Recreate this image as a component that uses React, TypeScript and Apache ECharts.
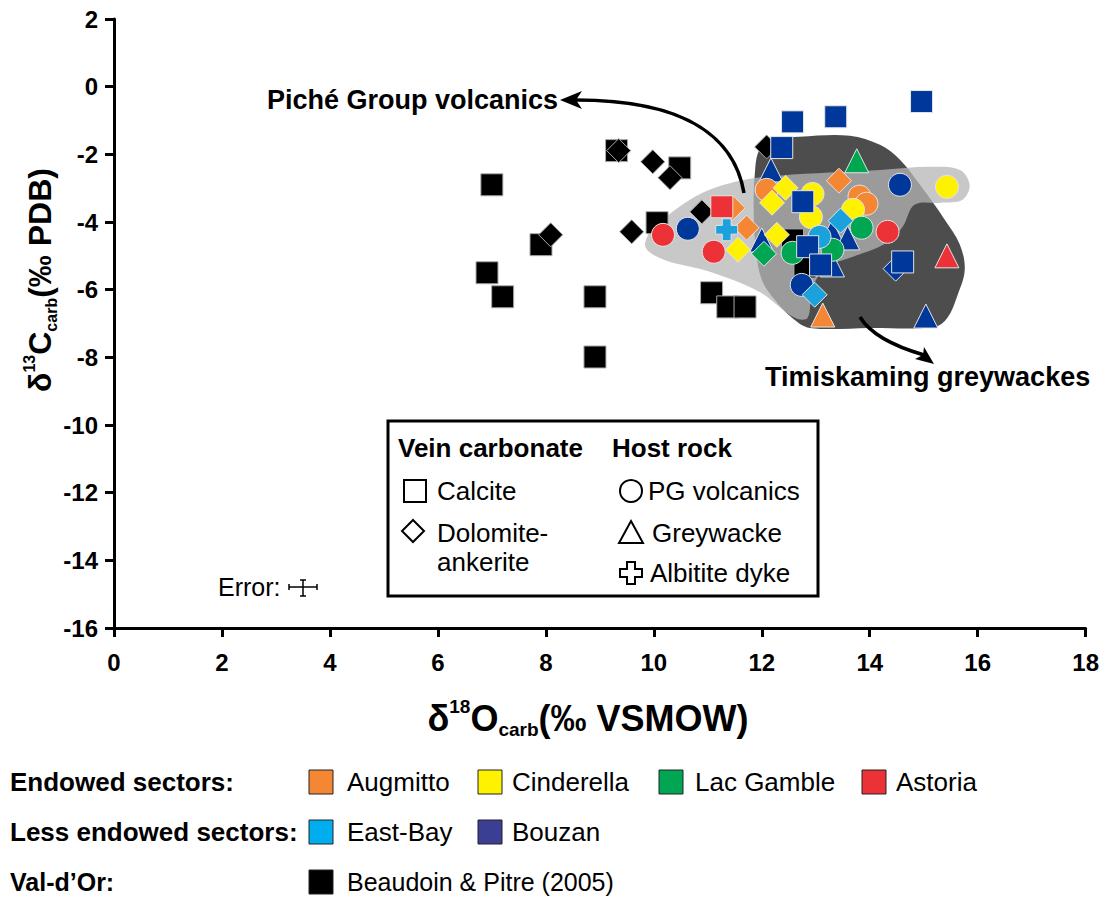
import React, { useEffect, useRef } from "react";
import * as echarts from "echarts";

const F = "'Liberation Sans', Arial, Helvetica, sans-serif";

// Axis ticks
const xTicks = { min: 0, max: 18, interval: 2 };
const yTicks = { min: -16, max: 2, interval: 2 };

// Shaded fields (data coordinates)
const greywackeField = [
  [11.87, -2.6], [11.96, -1.86], [12.24, -1.57], [12.7, -1.48], [13.63, -1.45], [14.19, -1.72],
  [14.56, -2.16], [14.93, -2.9], [15.39, -3.93], [15.67, -4.67], [15.76, -5.41], [15.63, -6.15],
  [15.44, -6.83], [15.2, -7.1], [14.0, -7.13], [12.89, -7.13], [12.56, -6.83], [12.24, -6.3],
  [12.0, -5.71], [11.89, -4.82], [11.85, -3.64],
];
const picheField = [
  [9.85, -4.76], [9.93, -4.29], [10.2, -3.88], [10.67, -3.34], [11.13, -2.99], [11.69, -2.75],
  [12.33, -2.63], [13.26, -2.54], [14.19, -2.46], [15.11, -2.37], [15.67, -2.46], [15.85, -2.9],
  [15.72, -3.34], [15.3, -3.43], [14.83, -3.49], [14.61, -4.14], [14.31, -4.62], [13.69, -5.03],
  [13.17, -5.36], [12.93, -6.01], [12.85, -6.83], [12.61, -6.83], [11.96, -6.07], [11.04, -5.47],
  [10.2, -5.12],
];

// Beaudoin & Pitre (2005), Val-d'Or
const valDOrCalcite = [
  [7.0, -2.9], [6.91, -5.5], [7.2, -6.21], [7.91, -4.67], [8.91, -6.21], [8.91, -7.99],
  [9.31, -1.89], [10.06, -4.02], [10.48, -2.4], [11.07, -6.09], [11.37, -6.51], [11.69, -6.51],
  [12.57, -4.53], [12.8, -5.33],
];
const valDOrDolomite = [
  [8.09, -4.38], [9.35, -1.89], [9.98, -2.22], [10.3, -2.69], [9.59, -4.29], [10.89, -3.7], [12.09, -1.78],
];

// Augmitto
const augmittoDolomite = [[11.46, -3.58], [11.72, -4.17], [13.43, -2.78]];
const augmittoVolcanics = [[12.09, -3.05], [13.81, -3.25], [13.94, -3.46]];
const augmittoGreywacke = [[13.13, -6.75]];

// Cinderella
const cinderellaDolomite = [[12.44, -2.99], [12.19, -3.43], [11.56, -4.82], [12.28, -4.38]];
const cinderellaVolcanics = [[12.94, -3.17], [12.91, -3.85], [13.69, -3.64], [15.43, -2.96]];

// Lac Gamble
const lacGambleDolomite = [[12.04, -4.94]];
const lacGambleVolcanics = [[12.57, -4.91], [13.31, -4.82], [13.85, -4.17]];
const lacGambleGreywacke = [[13.76, -2.19]];

// Astoria
const astoriaCalcite = [[11.26, -3.55]];
const astoriaVolcanics = [[10.17, -4.38], [11.11, -4.88], [14.33, -4.29]];
const astoriaGreywacke = [[15.43, -5.0]];

// East-Bay
const eastBayDolomite = [[12.98, -6.15], [13.46, -3.96]];
const eastBayVolcanics = [[13.07, -4.44]];
const eastBayDyke = [[11.35, -4.23]];

// Bouzan
const bouzanCalcite = [
  [14.96, -0.44], [13.37, -0.89], [12.57, -1.04], [12.37, -1.8], [12.76, -3.4], [12.85, -4.73],
  [13.09, -5.27], [14.61, -5.18],
];
const bouzanDolomite = [[14.48, -5.38]];
const bouzanVolcanics = [[10.63, -4.2], [12.74, -5.86], [14.56, -2.9]];
const bouzanGreywacke = [[12.17, -2.46], [12.0, -4.53], [13.3, -4.29], [13.59, -4.47], [13.31, -5.27], [15.04, -6.78]];

const C = {
  augmitto: "#F58634",
  cinderella: "#FFF200",
  lacGamble: "#00A651",
  astoria: "#ED3237",
  eastBay: "#1BA1DC",
  bouzan: "#00379A",
  bouzanLegend: "#3A3F94",
  eastBayLegend: "#00AEEF",
  black: "#000000",
};

const CROSS = "path://M3,0H7V3H10V7H7V10H3V7H0V3H3Z";

function mk(name: string, data: number[][], color: string, symbol: string, size: number, border = "#e4e4e4") {
  return {
    type: "scatter",
    name,
    data,
    symbol,
    symbolSize: size,
    z: 3,
    itemStyle: { color, borderColor: border, borderWidth: 1, opacity: 1 },
    emphasis: { disabled: true },
  };
}

function txt(text: string, x: number, y: number, size: number, bold = false, align = "left") {
  return {
    type: "text",
    x,
    y,
    z: 20,
    silent: true,
    style: {
      text,
      fill: "#000",
      fontSize: size,
      fontWeight: bold ? "bold" : "normal",
      fontFamily: F,
      align,
      verticalAlign: "middle",
    },
  };
}

function sq(cx: number, cy: number, color: string) {
  return {
    type: "rect",
    z: 20,
    silent: true,
    shape: { x: cx - 12, y: cy - 12, width: 24, height: 24 },
    style: { fill: color, stroke: "#222", lineWidth: 1 },
  };
}

const fields = [greywackeField, picheField];
const fieldFills = ["#4d4d4d", "rgba(181,181,181,0.75)"];

const axisName = (sup: string, main: string, sub: string, rest: string, big: number, small: number) =>
  ({
    text: `{a|δ}{s|${sup}}{a|${main}}{b|${sub}}{a|${rest}}`,
    rich: {
      a: { fontSize: big, fontWeight: "bold", fontFamily: F, fill: "#000", lineHeight: big + 6, verticalAlign: "middle" },
      s: { fontSize: small, fontWeight: "bold", fontFamily: F, fill: "#000", lineHeight: small, verticalAlign: "top" },
      b: { fontSize: small, fontWeight: "bold", fontFamily: F, fill: "#000", lineHeight: small, verticalAlign: "bottom" },
    },
  });

export default function App() {
  const ref = useRef<HTMLDivElement>(null);
  useEffect(() => {
    const chart = echarts.init(ref.current!, null, { renderer: "svg" });
    const axisCommon = {
      type: "value",
      splitLine: { show: false },
      axisLine: { show: true, onZero: false, lineStyle: { color: "#000", width: 3 } },
      axisTick: { show: true, length: 9, lineStyle: { color: "#000", width: 3 } },
      axisLabel: { color: "#000", fontSize: 24, fontWeight: "bold", fontFamily: F },
    };
    const option: any = {
      animation: false,
      backgroundColor: "#fff",
      grid: { left: 114, right: 16, top: 19, bottom: 269 },
      xAxis: { ...axisCommon, ...xTicks, axisLabel: { ...axisCommon.axisLabel, margin: 22 } },
      yAxis: { ...axisCommon, ...yTicks, axisLabel: { ...axisCommon.axisLabel, margin: 16 } },
      series: [
        {
          type: "custom",
          z: 1,
          silent: true,
          data: fields.map((_, i) => [i, 0]),
          renderItem: (params: any, api: any) => {
            const pts = fields[params.dataIndex].map((p) => api.coord(p));
            return {
              type: "polygon",
              shape: { points: pts, smooth: 0.35 },
              style: { fill: fieldFills[params.dataIndex], stroke: null },
            };
          },
        },
        mk("Val-d'Or calcite", valDOrCalcite, C.black, "rect", 22, "#aaa"),
        mk("Val-d'Or dolomite", valDOrDolomite, C.black, "diamond", 24, "#aaa"),
        mk("Bouzan volcanics", bouzanVolcanics, C.bouzan, "circle", 23),
        mk("Bouzan greywacke", bouzanGreywacke, C.bouzan, "triangle", 24),
        mk("Augmitto dolomite", augmittoDolomite, C.augmitto, "diamond", 25),
        mk("Augmitto volcanics", augmittoVolcanics, C.augmitto, "circle", 23),
        mk("Augmitto greywacke", augmittoGreywacke, C.augmitto, "triangle", 24),
        mk("Cinderella dolomite", cinderellaDolomite, C.cinderella, "diamond", 25),
        mk("Cinderella volcanics", cinderellaVolcanics, C.cinderella, "circle", 23),
        mk("Lac Gamble dolomite", lacGambleDolomite, C.lacGamble, "diamond", 25),
        mk("Lac Gamble volcanics", lacGambleVolcanics, C.lacGamble, "circle", 23),
        mk("Lac Gamble greywacke", lacGambleGreywacke, C.lacGamble, "triangle", 24),
        mk("Astoria calcite", astoriaCalcite, C.astoria, "rect", 22),
        mk("Astoria volcanics", astoriaVolcanics, C.astoria, "circle", 23),
        mk("Astoria greywacke", astoriaGreywacke, C.astoria, "triangle", 24),
        mk("East-Bay dolomite", eastBayDolomite, C.eastBay, "diamond", 25),
        mk("East-Bay volcanics", eastBayVolcanics, C.eastBay, "circle", 23),
        mk("East-Bay dyke", eastBayDyke, C.eastBay, CROSS, 22),
        mk("Bouzan dolomite", bouzanDolomite, C.bouzan, "diamond", 25),
        mk("Bouzan calcite", bouzanCalcite, C.bouzan, "rect", 22),
      ],
      graphic: [
        // axis titles
        {
          type: "text", x: 588, y: 718, z: 20, silent: true,
          style: { ...axisName("18", "O", "carb", "(‰ VSMOW)", 36, 19), align: "center", verticalAlign: "middle" },
        },
        {
          type: "text", x: 40, y: 280, rotation: Math.PI / 2, z: 20, silent: true,
          style: { ...axisName("13", "C", "carb", "(‰ PDB)", 32, 16), align: "center", verticalAlign: "middle" },
        },
        // annotations
        txt("Piché Group volcanics", 558, 100, 27, true, "right"),
        txt("Timiskaming greywackes", 765, 377, 27, true, "left"),
        {
          type: "bezierCurve", z: 15, silent: true,
          shape: { x1: 744, y1: 193, cpx1: 735, cpy1: 140, cpx2: 690, cpy2: 100, x2: 576, y2: 100 },
          style: { stroke: "#000", lineWidth: 3.5, fill: null },
        },
        {
          type: "polygon", z: 15, silent: true,
          shape: { points: [[560, 100], [582, 91], [576, 100], [582, 109]] },
          style: { fill: "#000" },
        },
        {
          type: "bezierCurve", z: 15, silent: true,
          shape: { x1: 860, y1: 317, cpx1: 872, cpy1: 337, cpx2: 900, cpy2: 348, x2: 924, y2: 355 },
          style: { stroke: "#000", lineWidth: 3.5, fill: null },
        },
        {
          type: "polygon", z: 15, silent: true,
          shape: { points: [[934, 364], [915, 359], [923, 355], [924, 347]] },
          style: { fill: "#000" },
        },
        // inner legend box
        {
          type: "rect", z: 12, silent: true,
          shape: { x: 388, y: 421, width: 430, height: 175 },
          style: { fill: "#fff", stroke: "#000", lineWidth: 3 },
        },
        txt("Vein carbonate", 398, 448, 26, true),
        txt("Host rock", 612, 448, 26, true),
        {
          type: "rect", z: 20, silent: true,
          shape: { x: 404, y: 480, width: 22, height: 22 },
          style: { fill: "none", stroke: "#000", lineWidth: 2 },
        },
        txt("Calcite", 437, 491, 26),
        {
          type: "polygon", z: 20, silent: true,
          shape: { points: [[413, 520], [424, 531], [413, 542], [402, 531]] },
          style: { fill: "none", stroke: "#000", lineWidth: 2 },
        },
        txt("Dolomite-", 437, 533, 26),
        txt("ankerite", 437, 562, 26),
        {
          type: "circle", z: 20, silent: true,
          shape: { cx: 631, cy: 491, r: 11 },
          style: { fill: "none", stroke: "#000", lineWidth: 2 },
        },
        txt("PG volcanics", 648, 491, 26),
        {
          type: "polygon", z: 20, silent: true,
          shape: { points: [[631, 521], [643, 543], [619, 543]] },
          style: { fill: "none", stroke: "#000", lineWidth: 2 },
        },
        txt("Greywacke", 652, 533, 26),
        {
          type: "polygon", z: 20, silent: true,
          shape: {
            points: [[627, 562], [635, 562], [635, 569], [642, 569], [642, 577], [635, 577], [635, 584],
              [627, 584], [627, 577], [620, 577], [620, 569], [627, 569]],
          },
          style: { fill: "none", stroke: "#000", lineWidth: 2 },
        },
        txt("Albitite dyke", 650, 573, 26),
        // error bar
        txt("Error:", 218, 587, 25),
        { type: "line", z: 20, silent: true, shape: { x1: 289, y1: 587, x2: 317, y2: 587 }, style: { stroke: "#000", lineWidth: 1.5 } },
        { type: "line", z: 20, silent: true, shape: { x1: 303, y1: 580, x2: 303, y2: 596 }, style: { stroke: "#000", lineWidth: 1.5 } },
        { type: "line", z: 20, silent: true, shape: { x1: 289, y1: 584, x2: 289, y2: 590 }, style: { stroke: "#000", lineWidth: 1.5 } },
        { type: "line", z: 20, silent: true, shape: { x1: 317, y1: 584, x2: 317, y2: 590 }, style: { stroke: "#000", lineWidth: 1.5 } },
        { type: "line", z: 20, silent: true, shape: { x1: 300, y1: 580, x2: 306, y2: 580 }, style: { stroke: "#000", lineWidth: 1.5 } },
        { type: "line", z: 20, silent: true, shape: { x1: 300, y1: 596, x2: 306, y2: 596 }, style: { stroke: "#000", lineWidth: 1.5 } },
        // bottom legend
        txt("Endowed sectors:", 10, 782, 26, true),
        sq(321, 782, C.augmitto), txt("Augmitto", 347, 782, 26),
        sq(490, 782, C.cinderella), txt("Cinderella", 512, 782, 26),
        sq(671, 782, C.lacGamble), txt("Lac Gamble", 695, 782, 26),
        sq(874, 782, C.astoria), txt("Astoria", 896, 782, 26),
        txt("Less endowed sectors:", 10, 832, 26, true),
        sq(321, 832, C.eastBayLegend), txt("East-Bay", 347, 832, 26),
        sq(490, 832, C.bouzanLegend), txt("Bouzan", 512, 832, 26),
        txt("Val-d’Or:", 10, 882, 25, true),
        sq(321, 882, C.black), txt("Beaudoin & Pitre (2005)", 347, 882, 25),
      ],
    };
    chart.setOption(option);
    return () => chart.dispose();
  }, []);
  return (
    <div
      ref={ref}
      style={{ position: "fixed", left: 0, top: 0, width: 1102, height: 897, background: "#fff" }}
    />
  );
}
